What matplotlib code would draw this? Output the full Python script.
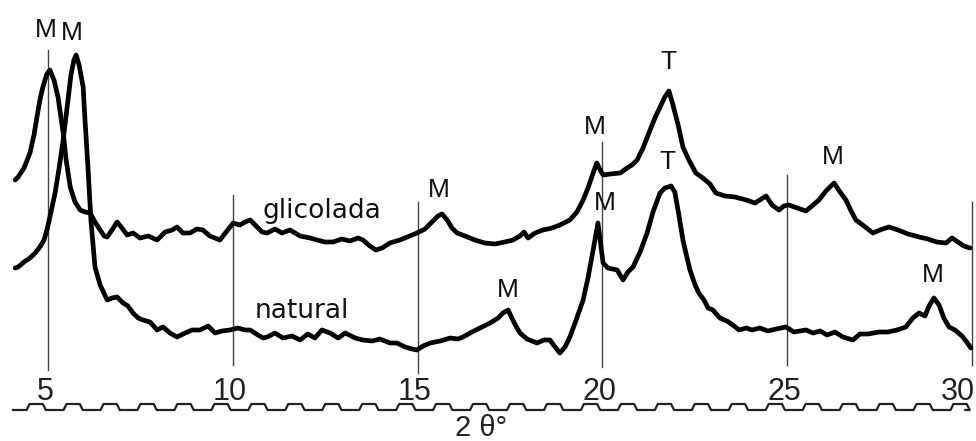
import numpy as np
import matplotlib
matplotlib.use("Agg")
import matplotlib.pyplot as plt

# 2 theta (deg), intensity (arbitrary units)
glicolada = [
    (4.11, 190), (4.19, 193), (4.35, 202), (4.51, 217), (4.62, 235), (4.70, 253), (4.78, 270),
    (4.86, 283), (4.97, 296), (5.05, 300), (5.16, 290), (5.27, 273), (5.35, 252), (5.41, 237),
    (5.49, 210), (5.60, 183), (5.73, 168), (5.87, 160), (6.00, 158), (6.14, 157), (6.27, 148),
    (6.41, 140), (6.52, 134), (6.60, 133), (6.73, 140), (6.87, 148), (7.00, 142), (7.14, 135),
    (7.30, 137), (7.49, 132), (7.71, 134), (7.95, 130), (8.17, 138), (8.36, 140), (8.49, 143),
    (8.65, 137), (8.84, 137), (9.03, 141), (9.19, 140), (9.38, 134), (9.65, 130), (9.82, 138),
    (10.01, 147), (10.19, 145), (10.33, 148), (10.47, 150), (10.63, 144), (10.79, 138),
    (10.93, 137), (11.14, 141), (11.33, 137), (11.55, 140), (11.82, 134), (12.09, 132),
    (12.28, 130), (12.49, 128), (12.71, 128), (12.95, 131), (13.17, 129), (13.39, 132),
    (13.52, 130), (13.71, 124), (13.87, 120), (14.04, 122), (14.25, 127), (14.52, 130),
    (14.79, 134), (14.98, 137), (15.20, 141), (15.39, 148), (15.55, 154), (15.66, 156),
    (15.80, 150), (15.93, 142), (16.07, 137), (16.28, 134), (16.55, 130), (16.82, 127),
    (17.09, 126), (17.36, 128), (17.58, 130), (17.77, 134), (17.88, 138), (17.99, 132),
    (18.18, 137), (18.39, 140), (18.64, 142), (18.85, 145), (19.12, 150), (19.31, 158),
    (19.48, 170), (19.61, 182), (19.75, 197), (19.85, 207), (19.94, 200), (20.02, 195),
    (20.21, 196), (20.48, 197), (20.67, 202), (20.80, 205), (20.94, 210), (21.10, 222),
    (21.29, 240), (21.42, 252), (21.56, 263), (21.69, 273), (21.80, 279), (21.91, 265),
    (22.05, 245), (22.18, 223), (22.34, 210), (22.53, 197), (22.72, 192), (22.91, 186),
    (23.07, 177), (23.32, 174), (23.59, 173), (23.89, 170), (24.13, 167), (24.26, 170),
    (24.43, 174), (24.59, 165), (24.78, 160), (24.91, 164), (25.05, 165), (25.27, 162),
    (25.51, 159), (25.70, 165), (25.86, 170), (26.05, 179), (26.27, 187), (26.43, 178),
    (26.59, 170), (26.73, 159), (26.86, 150), (27.08, 144), (27.32, 137), (27.51, 140),
    (27.75, 143), (28.00, 140), (28.27, 136), (28.57, 133), (28.81, 131), (29.05, 128),
    (29.30, 127), (29.46, 132), (29.62, 128), (29.78, 124), (29.95, 122),
]

natural = [
    (4.11, 102), (4.19, 103), (4.35, 108), (4.51, 112), (4.65, 117), (4.78, 123), (4.89, 130),
    (4.97, 140), (5.08, 158), (5.19, 177), (5.30, 202), (5.41, 230), (5.49, 255), (5.54, 270),
    (5.62, 295), (5.70, 310), (5.76, 315), (5.84, 305), (5.95, 283), (6.00, 250), (6.08, 203),
    (6.16, 150), (6.27, 103), (6.41, 85), (6.60, 70), (6.73, 72), (6.87, 73), (7.03, 67),
    (7.16, 64), (7.30, 57), (7.44, 52), (7.57, 50), (7.76, 48), (7.95, 40), (8.11, 43),
    (8.30, 37), (8.49, 33), (8.71, 37), (8.90, 40), (9.11, 40), (9.33, 44), (9.52, 37),
    (9.71, 39), (9.92, 40), (10.14, 42), (10.33, 40), (10.47, 40), (10.68, 35), (10.82, 32),
    (10.93, 33), (11.14, 37), (11.36, 32), (11.60, 34), (11.82, 30), (12.03, 36), (12.22, 32),
    (12.41, 40), (12.63, 37), (12.85, 32), (13.04, 37), (13.31, 32), (13.52, 30), (13.77, 29),
    (13.98, 31), (14.25, 27), (14.44, 27), (14.66, 23), (14.85, 21), (14.98, 20), (15.15, 24),
    (15.34, 27), (15.61, 29), (15.88, 32), (16.09, 31), (16.23, 33), (16.47, 38), (16.69, 42),
    (16.96, 47), (17.18, 52), (17.31, 57), (17.45, 60), (17.55, 52), (17.66, 44), (17.77, 37),
    (17.96, 31), (18.23, 27), (18.42, 30), (18.58, 30), (18.72, 23), (18.85, 17), (18.99, 23),
    (19.12, 33), (19.29, 50), (19.48, 70), (19.61, 92), (19.75, 120), (19.83, 137),
    (19.88, 147), (19.94, 130), (20.02, 107), (20.15, 102), (20.40, 100), (20.56, 90),
    (20.69, 98), (20.83, 103), (21.02, 118), (21.21, 137), (21.37, 158), (21.56, 177),
    (21.69, 182), (21.86, 184), (21.96, 178), (22.07, 155), (22.18, 130), (22.26, 117),
    (22.37, 100), (22.51, 85), (22.61, 77), (22.75, 70), (22.86, 62), (22.99, 60), (23.18, 52),
    (23.37, 49), (23.53, 45), (23.70, 40), (23.89, 42), (24.05, 40), (24.26, 42), (24.48, 39),
    (24.70, 41), (24.97, 43), (25.18, 38), (25.35, 39), (25.51, 40), (25.70, 37), (25.89, 39),
    (26.08, 35), (26.29, 38), (26.51, 33), (26.78, 30), (26.97, 36), (27.19, 36), (27.48, 38),
    (27.73, 38), (27.97, 40), (28.21, 43), (28.40, 52), (28.57, 57), (28.73, 54), (28.84, 64),
    (28.97, 72), (29.11, 65), (29.24, 52), (29.38, 43), (29.54, 40), (29.73, 34), (29.86, 28),
    (29.97, 22),
]

# vertical reference lines every 5 degrees
ref_pos = [5, 10, 15, 20, 25, 30]
ref_top = [320, 175, 168, 228, 195, 168]
ref_bot = [0, 5, -3, 3, 5, 5]
tick_labels = ["5", "10", "15", "20", "25", "30"]

# peak labels
peak_text = ["M", "M", "M", "M", "M", "M", "T", "T", "M", "M"]
peak_x = [4.95, 5.65, 15.58, 17.45, 19.80, 20.07, 21.80, 21.75, 26.24, 28.95]
peak_y = [340, 337, 180, 80, 243, 167, 308, 208, 213, 95]

narrow = ["Liberation Sans", "DejaVu Sans"]

fig = plt.figure(figsize=(9.76, 4.41), dpi=100)
ax = fig.add_axes([0, 0, 1, 1])
ax.set_xlim(3.70, 30.11)
ax.set_ylim(-71, 370)
ax.axis("off")

for x, top, bot in zip(ref_pos, ref_top, ref_bot):
    ax.plot([x, x], [bot, top], color="#444444", lw=1.0, zorder=1)

for data in (glicolada, natural):
    d = np.array(data)
    ax.plot(d[:, 0], d[:, 1], color="black", lw=3.4, solid_joinstyle="round",
            solid_capstyle="round", zorder=3)

ax.text(10.79, 152, "glicolada", fontsize=19, ha="left", va="baseline", color="#111111")
ax.text(10.60, 52, "natural", fontsize=19, ha="left", va="baseline", color="#111111")

for t, x, y in zip(peak_text, peak_x, peak_y):
    ax.text(x, y, t, fontsize=19, family=narrow, ha="center", va="center", color="#111111")

for x, lab in zip(ref_pos[:-1], tick_labels[:-1]):
    ax.text(x - 0.08, -30, lab, fontsize=22, family=narrow, ha="center", va="baseline",
            color="#222222")
# last label sits against the right edge
ax.text(30.09, -30, tick_labels[-1], fontsize=22, family=narrow, ha="right",
        va="baseline", color="#222222")

# wavy baseline under the tick labels
wx, wy = [4.05], [-40]
for c in np.arange(4.72, 29.8, 1.0):
    wx += [c - 0.30, c - 0.22, c + 0.14, c + 0.22]
    wy += [-40, -34, -34, -40]
wx.append(29.82)
wy.append(-40)
ax.plot(wx, wy, color="#222222", lw=1.6, solid_joinstyle="round", zorder=2)

ax.text(16.72, -58, "2 θ°", fontsize=21, family=narrow, ha="center", va="center",
        color="#222222")

fig.savefig("out.png", dpi=100)
